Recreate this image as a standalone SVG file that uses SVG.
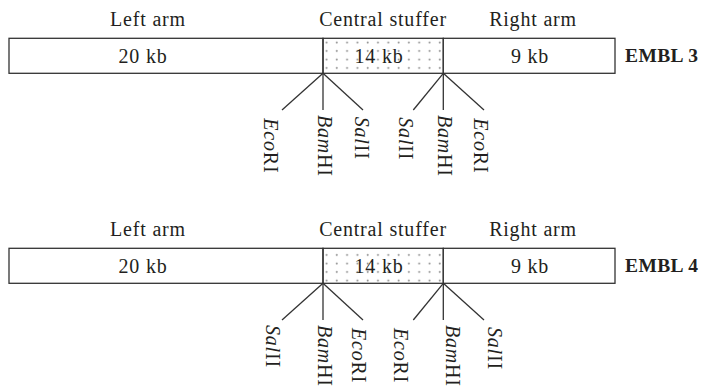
<svg xmlns="http://www.w3.org/2000/svg" width="701" height="388" viewBox="0 0 701 388">
  <defs>
    <pattern id="dots" patternUnits="userSpaceOnUse" x="323" y="38" width="10.3" height="8.5">
      <circle cx="3.5" cy="4.5" r="1" fill="#8c8c8c"/>
    </pattern>
  </defs>
  <style>
    text { font-family: "Liberation Serif", "Times New Roman", serif; fill: #231f20; }
    .lbl { font-size: 20px; letter-spacing: 0.8px; text-anchor: middle; }
    .name { font-size: 19.5px; font-weight: bold; letter-spacing: 0.4px; }
    .site { font-size: 20px; letter-spacing: 0.8px; }
    .it { font-style: italic; }
    .seg { fill: #fff; stroke: #333; stroke-width: 1.3; }
    .stuff { fill: url(#dots); stroke: #333; stroke-width: 1.3; }
    .conn line { stroke: #333; stroke-width: 1.3; }
  </style>

  <!-- EMBL 3 -->
  <g id="embl3">
    <g id="embl3-left">
      <rect class="seg" x="9" y="38.3" width="314" height="35"/>
      <text class="lbl" x="148" y="26">Left arm</text>
      <text class="lbl" x="143" y="62.5">20 kb</text>
    </g>
    <g id="embl3-stuffer">
      <rect class="stuff" x="323" y="38.3" width="120.3" height="35"/>
      <text class="lbl" x="383" y="26">Central stuffer</text>
      <text class="lbl" x="379" y="62.5">14 kb</text>
    </g>
    <g id="embl3-right">
      <rect class="seg" x="443.3" y="38.3" width="171.7" height="35"/>
      <text class="lbl" x="533" y="26">Right arm</text>
      <text class="lbl" x="530" y="62.5">9 kb</text>
    </g>
    <text id="embl3-name" class="name" x="625" y="62">EMBL 3</text>
    <g id="embl3-site1">
      <text class="site" transform="translate(263.5,118.3) rotate(90)"><tspan class="it">Eco</tspan>RI</text>
      <text class="site" transform="translate(317.5,115) rotate(90)"><tspan class="it">Bam</tspan>HI</text>
      <text class="site" transform="translate(355.2,116.7) rotate(90)"><tspan class="it">Sal</tspan>II</text>
    </g>
    <g id="embl3-site2">
      <text class="site" transform="translate(398.5,117.3) rotate(90)"><tspan class="it">Sal</tspan>II</text>
      <text class="site" transform="translate(438,115) rotate(90)"><tspan class="it">Bam</tspan>HI</text>
      <text class="site" transform="translate(474.3,118.3) rotate(90)"><tspan class="it">Eco</tspan>RI</text>
    </g>
  </g>

  <!-- EMBL 4 -->
  <g id="embl4">
    <g id="embl4-left">
      <rect class="seg" x="9" y="248.3" width="314" height="35"/>
      <text class="lbl" x="148" y="236">Left arm</text>
      <text class="lbl" x="143" y="272.5">20 kb</text>
    </g>
    <g id="embl4-stuffer">
      <rect class="stuff" x="323" y="248.3" width="120.3" height="35"/>
      <text class="lbl" x="383" y="236">Central stuffer</text>
      <text class="lbl" x="379" y="272.5">14 kb</text>
    </g>
    <g id="embl4-right">
      <rect class="seg" x="443.3" y="248.3" width="171.7" height="35"/>
      <text class="lbl" x="533" y="236">Right arm</text>
      <text class="lbl" x="530" y="272.5">9 kb</text>
    </g>
    <text id="embl4-name" class="name" x="625" y="272">EMBL 4</text>
    <g id="embl4-site1">
      <text class="site" transform="translate(265.5,325) rotate(90)"><tspan class="it">Sal</tspan>II</text>
      <text class="site" transform="translate(317.5,325) rotate(90)"><tspan class="it">Bam</tspan>HI</text>
      <text class="site" transform="translate(352,328) rotate(90)"><tspan class="it">Eco</tspan>RI</text>
    </g>
    <g id="embl4-site2">
      <text class="site" transform="translate(393.5,328) rotate(90)"><tspan class="it">Eco</tspan>RI</text>
      <text class="site" transform="translate(446,325) rotate(90)"><tspan class="it">Bam</tspan>HI</text>
      <text class="site" transform="translate(487.5,327) rotate(90)"><tspan class="it">Sal</tspan>II</text>
    </g>
  </g>

  <!-- cut-site leader lines -->
  <g id="connectors" class="conn">
    <line x1="323" y1="73.3" x2="282" y2="110"/>
    <line x1="323" y1="73.3" x2="323" y2="110"/>
    <line x1="323" y1="73.3" x2="363" y2="110"/>
    <line x1="443.3" y1="73.3" x2="413.3" y2="110"/>
    <line x1="443.3" y1="73.3" x2="443.3" y2="110"/>
    <line x1="443.3" y1="73.3" x2="484" y2="110"/>
    <line x1="323" y1="283.3" x2="282" y2="320"/>
    <line x1="323" y1="283.3" x2="323" y2="320"/>
    <line x1="323" y1="283.3" x2="363" y2="320"/>
    <line x1="443.3" y1="283.3" x2="413.3" y2="320"/>
    <line x1="443.3" y1="283.3" x2="443.3" y2="320"/>
    <line x1="443.3" y1="283.3" x2="484" y2="320"/>
  </g>
</svg>
